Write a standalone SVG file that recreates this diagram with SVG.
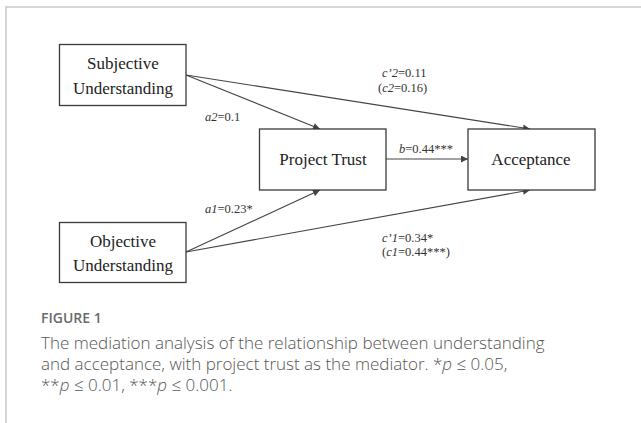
<svg xmlns="http://www.w3.org/2000/svg" width="641" height="423" viewBox="0 0 641 423">
<style>
.frame{fill:none;stroke:#c8c8c8;stroke-width:1.5}
.box rect{fill:#fff;stroke:#3a3a3a;stroke-width:1.3}
.box text{font-family:"Liberation Serif","Times New Roman",serif;font-size:17px;fill:#222;text-anchor:middle}
.edge{fill:none;stroke:#444;stroke-width:1.1}
.lbl{font-family:"Liberation Serif","Times New Roman",serif;font-size:12.5px;fill:#333}
.it{font-style:italic}
.fig{font-family:"Open Sans","Noto Sans",sans-serif;font-size:14px;font-weight:600;fill:#6a6a6a}
.cap{font-family:"Open Sans","Noto Sans",sans-serif;font-size:17px;font-weight:300;fill:#555}
</style>
<defs>
<marker id="arr" viewBox="0 0 10 10" refX="10" refY="5" markerWidth="9" markerHeight="7" markerUnits="userSpaceOnUse" orient="auto">
<path d="M0,0 L10,5 L0,10 z" fill="#444"/>
</marker>
</defs>
<rect width="641" height="423" fill="#fff"/>
<path class="frame" d="M6,423 V7 H641"/>
<g id="connectors">
<line class="edge" x1="186" y1="75" x2="320" y2="129" marker-end="url(#arr)"/>
<line class="edge" x1="186" y1="75" x2="530" y2="129" marker-end="url(#arr)"/>
<line class="edge" x1="186" y1="252" x2="320" y2="190" marker-end="url(#arr)"/>
<line class="edge" x1="186" y1="252" x2="530" y2="190" marker-end="url(#arr)"/>
<line class="edge" x1="386" y1="159" x2="468" y2="159" marker-end="url(#arr)"/>
</g>
<g id="labels">
<text class="lbl" x="382" y="77"><tspan class="it">c’2</tspan>=0.11</text>
<text class="lbl" x="378" y="92">(<tspan class="it">c2</tspan>=0.16)</text>
<text class="lbl" x="205" y="121"><tspan class="it">a2</tspan>=0.1</text>
<text class="lbl" x="399" y="153"><tspan class="it">b</tspan>=0.44***</text>
<text class="lbl" x="205" y="213"><tspan class="it">a1</tspan>=0.23*</text>
<text class="lbl" x="382" y="242"><tspan class="it">c’1</tspan>=0.34*</text>
<text class="lbl" x="382" y="256">(<tspan class="it">c1</tspan>=0.44***)</text>
</g>
<g id="subjective" class="box">
<rect x="59.5" y="44.5" width="126.5" height="61"/>
<text x="123" y="69">Subjective</text>
<text x="123" y="94">Understanding</text>
</g>
<g id="objective" class="box">
<rect x="59.5" y="222.5" width="126.5" height="60"/>
<text x="123" y="247">Objective</text>
<text x="123" y="271">Understanding</text>
</g>
<g id="trust" class="box">
<rect x="259.5" y="129" width="126.5" height="61"/>
<text x="323" y="165">Project Trust</text>
</g>
<g id="acceptance" class="box">
<rect x="468" y="129" width="127" height="61"/>
<text x="531" y="165">Acceptance</text>
</g>
<g id="caption">
<text class="fig" x="41" y="323">FIGURE 1</text>
<text class="cap" x="41" y="349">The mediation analysis of the relationship between understanding</text>
<text class="cap" x="41" y="370">and acceptance, with project trust as the mediator. *<tspan class="it">p</tspan> ≤ 0.05,</text>
<text class="cap" x="41" y="391">**<tspan class="it">p</tspan> ≤ 0.01, ***<tspan class="it">p</tspan> ≤ 0.001.</text>
</g>
</svg>
